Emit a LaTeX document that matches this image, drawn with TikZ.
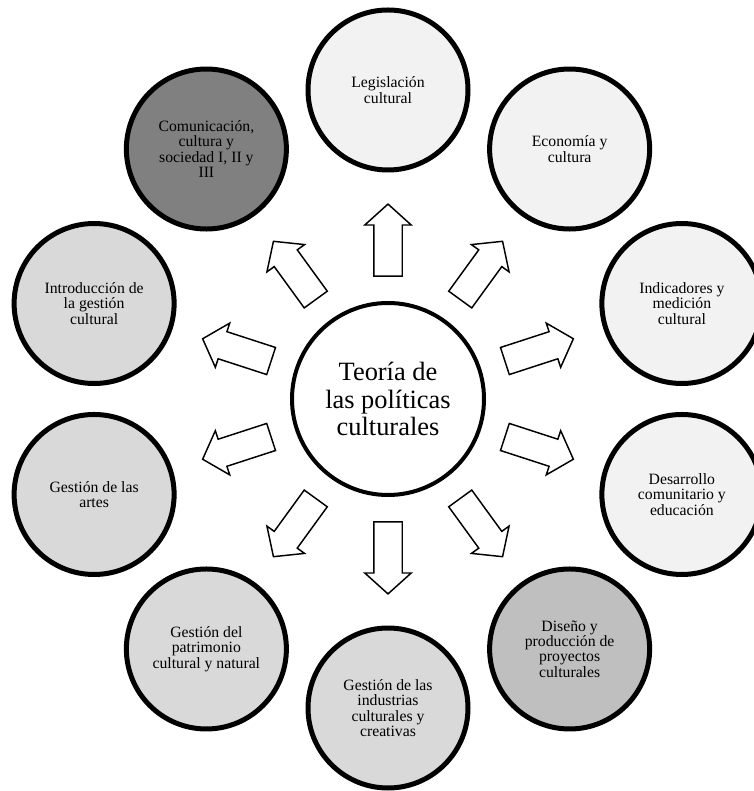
\documentclass[tikz,border=0pt]{standalone}
\usepackage{fontspec}
\setmainfont{Liberation Serif}
\usetikzlibrary{shapes.arrows}

\definecolor{grisclaro}{HTML}{F2F2F2}
\definecolor{grismedio}{HTML}{D9D9D9}
\definecolor{grisfuerte}{HTML}{BFBFBF}
\definecolor{grisoscuro}{HTML}{808080}

\tikzset{
    materia/.style={circle, draw, line width=3.75pt, minimum size=120pt, inner sep=0pt,
        align=center, font=\fontsize{11.8}{11.6}\selectfont},
    flecha/.style={single arrow, draw, line width=1.1pt, fill=white, inner xsep=0pt, inner ysep=10.125pt,
        minimum height=54pt, single arrow head extend=6.75pt, single arrow tip angle=96},
}

\begin{document}
\begin{tikzpicture}[x=0.75pt,y=0.75pt]

            \useasboundingbox (-388,-392) rectangle (365,399);

            \node[circle, draw, line width=3pt, minimum size=144pt, align=center,
                font=\fontsize{19.8}{20.5}\selectfont] (teoria) at (0,0) {Teoría de\\las políticas\\culturales};

            \foreach \ang/\col/\nom/\txt in {
                90/grisclaro/legis/{Legislación\\cultural},
                54/grisclaro/econ/{Economía y\\cultura},
                18/grisclaro/indic/{Indicadores y\\medición\\cultural},
                -18/grisclaro/desar/{Desarrollo\\comunitario y\\educación},
                -54/grisfuerte/disen/{Diseño y\\producción de\\proyectos\\culturales},
                -90/grismedio/indus/{Gestión de las\\industrias\\culturales y\\creativas},
                -126/grismedio/patri/{Gestión del\\patrimonio\\cultural y natural},
                -162/grismedio/artes/{Gestión de las\\artes},
                162/grismedio/intro/{Introducción de\\la gestión\\cultural},
                126/grisoscuro/comun/{Comunicación,\\cultura y\\sociedad I, II y\\III}} {
                \node[materia, fill=\col] (\nom) at (\ang:309) {\txt};
                \node[flecha, rotate=\ang] (f-\nom) at (\ang:152.5) {};
            }

        \end{tikzpicture}
\end{document}
